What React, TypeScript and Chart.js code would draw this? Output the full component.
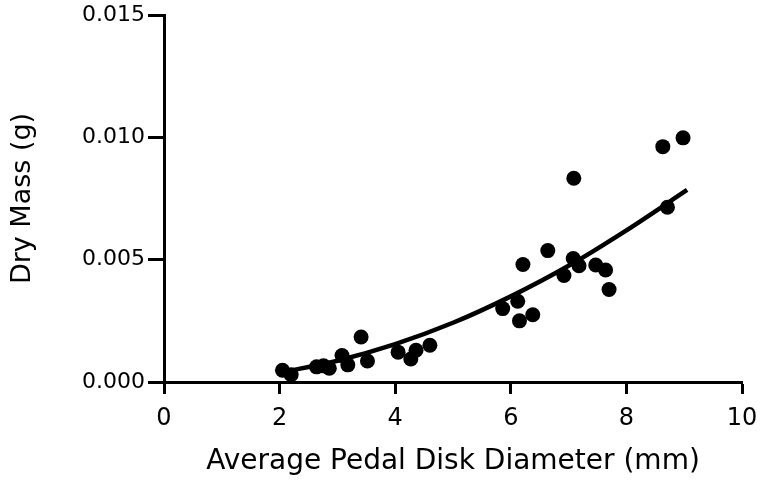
import React, { useEffect, useRef } from 'react';
import { Chart, registerables } from 'chart.js';

Chart.register(...registerables);

// Observed data: average pedal disk diameter (mm) vs dry mass (g)
const diameterMm = [
  2.05, 2.2, 2.64, 2.76, 2.86, 3.08, 3.18, 3.41, 3.52, 4.05, 4.27, 4.36, 4.6,
  5.86, 6.12, 6.15, 6.38, 6.21, 6.64, 6.92, 7.08, 7.18, 7.09, 7.47, 7.64, 7.7,
  8.63, 8.98, 8.71,
];
const dryMassG = [
  0.00048, 0.0003, 0.00062, 0.00066, 0.00056, 0.00108, 0.0007, 0.00184, 0.00086, 0.00122, 0.00094, 0.0013, 0.0015,
  0.003, 0.0033, 0.0025, 0.00275, 0.0048, 0.00537, 0.00435, 0.00505, 0.00475, 0.00833, 0.00478, 0.00458, 0.00378,
  0.00962, 0.00998, 0.00714,
];

// Fitted curve
const fitX = [2.0, 3.0, 4.0, 5.0, 6.0, 7.0, 8.0, 9.05];
const fitY = [0.00038, 0.00087, 0.00155, 0.00242, 0.0035, 0.00475, 0.0062, 0.00785];

const xTickValues = [0, 2, 4, 6, 8, 10];
const yTickValues = [0, 0.005, 0.01, 0.015];

const FONT = "'DejaVu Sans', Verdana, sans-serif";

export default function App() {
  const canvasRef = useRef<HTMLCanvasElement | null>(null);

  useEffect(() => {
    document.body.style.margin = '0';
    const canvas = canvasRef.current;
    if (!canvas) return;
    const chart = new Chart(canvas, {
      type: 'scatter',
      data: {
        datasets: [
          {
            label: 'Fit',
            type: 'line',
            data: fitX.map((x, i) => ({ x, y: fitY[i] })),
            borderColor: '#000',
            borderWidth: 4.5,
            pointRadius: 0,
            cubicInterpolationMode: 'monotone',
            fill: false,
            borderCapStyle: 'butt',
          },
          {
            label: 'Data',
            data: diameterMm.map((x, i) => ({ x, y: dryMassG[i] })),
            backgroundColor: '#000',
            borderColor: '#000',
            pointRadius: 7.5,
            pointHoverRadius: 7.5,
            borderWidth: 0,
          },
        ],
      },
      options: {
        responsive: true,
        maintainAspectRatio: false,
        animation: false,
        events: [],
        layout: { padding: { top: 15, right: 21, left: 0, bottom: 0 } },
        plugins: {
          legend: { display: false },
          tooltip: { enabled: false },
          title: { display: false },
        },
        scales: {
          x: {
            type: 'linear',
            min: 0,
            max: 10,
            afterBuildTicks: (scale: any) => {
              scale.ticks = xTickValues.map((v) => ({ value: v }));
            },
            afterFit: (scale: any) => {
              scale.height = 99;
              scale.paddingLeft = 0;
              scale.paddingRight = 0;
            },
            ticks: {
              color: '#000',
              font: { family: FONT, size: 24 },
              padding: 10,
              maxRotation: 0,
              callback: (v: any) => String(v),
            },
            grid: {
              drawOnChartArea: false,
              drawTicks: true,
              tickLength: 12,
              tickWidth: 3,
              color: '#000',
            },
            border: { display: true, color: '#000', width: 3 },
            title: {
              display: true,
              text: 'Average Pedal Disk Diameter (mm)',
              color: '#000',
              font: { family: FONT, size: 28 },
              padding: { top: 0, bottom: 2 },
            },
          },
          y: {
            type: 'linear',
            min: 0,
            max: 0.015,
            afterBuildTicks: (scale: any) => {
              scale.ticks = yTickValues.map((v) => ({ value: v }));
            },
            afterFit: (scale: any) => {
              scale.width = 164;
              scale.paddingTop = 0;
              scale.paddingBottom = 0;
            },
            ticks: {
              color: '#000',
              font: { family: FONT, size: 22 },
              padding: 3,
              callback: (v: any) => Number(v).toFixed(3),
            },
            grid: {
              drawOnChartArea: false,
              drawTicks: true,
              tickLength: 16,
              tickWidth: 3,
              color: '#000',
            },
            border: { display: true, color: '#000', width: 3 },
            title: {
              display: true,
              text: 'Dry Mass (g)',
              color: '#000',
              font: { family: FONT, size: 27 },
              padding: { top: 7, bottom: 0 },
            },
          },
        },
      },
    });
    return () => chart.destroy();
  }, []);

  return (
    <div style={{ position: 'absolute', left: 0, top: 0, width: 763, height: 481, background: '#fff' }}>
      <canvas ref={canvasRef} />
    </div>
  );
}
